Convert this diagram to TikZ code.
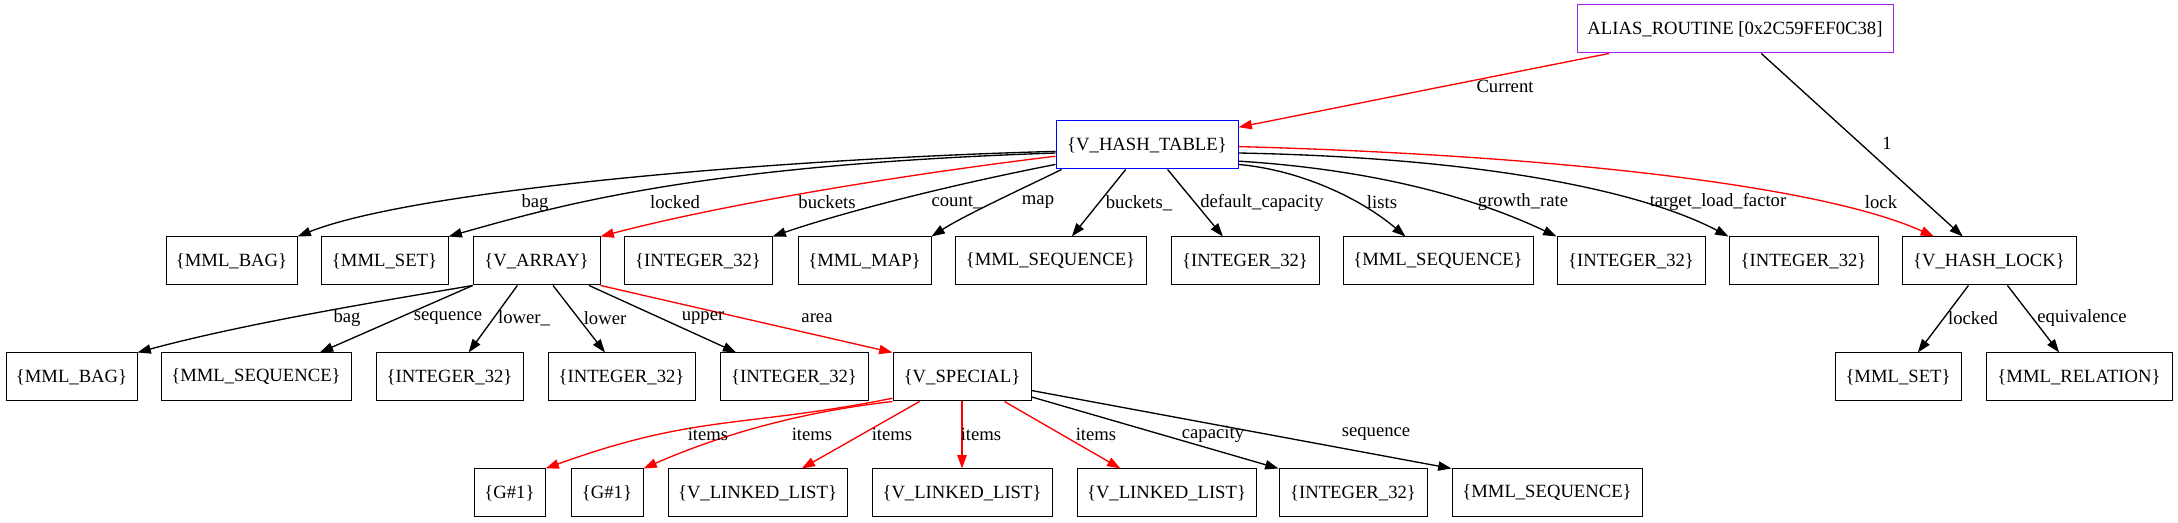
\documentclass[tikz,border=0pt]{standalone}
\usepackage{fontspec}
\setmainfont{Liberation Serif}
\usetikzlibrary{arrows.meta}
\definecolor{gvpurple}{HTML}{A020F0}
\definecolor{gvblue}{HTML}{0000FF}
\definecolor{gvred}{HTML}{FF0000}
\begin{document}
\begin{tikzpicture}[x=0.75pt,y=-0.75pt,
  every node/.style={font=\fontsize{14pt}{16pt}\selectfont},
  bx/.style={draw, line width=0.75pt, inner sep=0pt, minimum height=36pt, minimum width=#1*0.75pt},
  lab/.style={inner sep=0pt},
  ed/.style={line width=1pt, -{Triangle[length=10pt,width=7pt]}},
  reded/.style={ed, draw=gvred}]
\useasboundingbox (0,0) rectangle (2178,523);

% row 1
\node[bx=316, draw=gvpurple] (alias) at (1735,29) {ALIAS\_ROUTINE [0x2C59FEF0C38]};
\node[bx=182, draw=gvblue] (hash) at (1147,145) {\{V\_HASH\_TABLE\}};
% row 2
\node[bx=131] (bag1) at (231.5,261) {\{MML\_BAG\}};
\node[bx=127] (set1) at (384.5,261) {\{MML\_SET\}};
\node[bx=127] (array) at (536.5,261) {\{V\_ARRAY\}};
\node[bx=148] (intcount) at (698,261) {\{INTEGER\_32\}};
\node[bx=133] (map) at (864.5,261) {\{MML\_MAP\}};
\node[bx=191] (seqb) at (1050.5,261) {\{MML\_SEQUENCE\}};
\node[bx=148] (intdc) at (1245,261) {\{INTEGER\_32\}};
\node[bx=190] (seql) at (1438,261) {\{MML\_SEQUENCE\}};
\node[bx=148] (intgr) at (1631,261) {\{INTEGER\_32\}};
\node[bx=149] (inttlf) at (1803.5,261) {\{INTEGER\_32\}};
\node[bx=174] (lock) at (1989,261) {\{V\_HASH\_LOCK\}};
% row 3
\node[bx=131] (bag2) at (71.5,377) {\{MML\_BAG\}};
\node[bx=190] (seq2) at (256,377) {\{MML\_SEQUENCE\}};
\node[bx=147] (intlu) at (449.5,377) {\{INTEGER\_32\}};
\node[bx=147] (intl) at (621.5,377) {\{INTEGER\_32\}};
\node[bx=148] (intu) at (794,377) {\{INTEGER\_32\}};
\node[bx=138] (special) at (962,377) {\{V\_SPECIAL\}};
\node[bx=126] (set2) at (1898,377) {\{MML\_SET\}};
\node[bx=186] (rel) at (2079,377) {\{MML\_RELATION\}};
% row 4
\node[bx=71] (g1) at (509.5,493) {\{G\#1\}};
\node[bx=72] (g2) at (607,493) {\{G\#1\}};
\node[bx=179] (ll1) at (757.5,493) {\{V\_LINKED\_LIST\}};
\node[bx=180] (ll2) at (962,493) {\{V\_LINKED\_LIST\}};
\node[bx=179] (ll3) at (1166.5,493) {\{V\_LINKED\_LIST\}};
\node[bx=148] (intc) at (1353,493) {\{INTEGER\_32\}};
\node[bx=190] (seq3) at (1547,493) {\{MML\_SEQUENCE\}};

% edges from alias
\draw[reded] (alias.191.4) -- (hash.11.8);
\draw[ed] (alias.317.3) -- (lock.137.3);
% edges from hash
\draw[ed] (hash.184) .. controls (800,158) and (420,188) .. (bag1.north east);
\draw[ed] (hash.185) .. controls (700,165) and (560,205) .. (set1.north east);
\draw[reded] (hash.187.5) .. controls (900,175) and (720,205) .. (array.north east);
\draw[ed] (hash.192) .. controls (960,183) and (850,210) .. (intcount.north east);
\draw[ed] (hash.196) .. controls (1030,185) and (965,215) .. (map.north east);
\draw[ed] (hash.229) -- (seqb.49.5);
\draw[ed] (hash.310) -- (intdc.132.5);
\draw[ed] (hash.348.6) .. controls (1300,170) and (1360,198) .. (seql.143);
\draw[ed] (hash.350.2) .. controls (1380,170) and (1480,200) .. (intgr.north west);
\draw[ed] (hash.355.8) .. controls (1500,158) and (1650,195) .. (inttlf.north west);
\draw[reded] (hash.359.4) .. controls (1550,155) and (1820,185) .. (lock.156.8);
% edges from lock
\draw[ed] (lock.230) -- (set2.51.6);
\draw[ed] (lock.307) -- (rel.129.8);
% edges from array
\draw[ed] (array.south west) .. controls (400,298) and (250,322) .. (bag2.north east);
\draw[ed] (array.201.3) -- (seq2.21.5);
\draw[ed] (array.232.4) -- (intlu.52.4);
\draw[ed] (array.304.5) -- (intl.124.5);
\draw[ed] (array.335.4) -- (intu.157.2);
\draw[reded] (array.south east) -- (special.north west);
% edges from special
\draw[reded] (special.197) .. controls (743,428) and (696,414) .. (g1.north east);
\draw[reded] (special.south west) .. controls (800,412) and (720,435) .. (g2.north east);
\draw[reded] (special.210.2) -- (ll1.29.5);
\draw[reded] (special.south) -- (ll2.north);
\draw[reded] (special.330.8) -- (ll3.152.7);
\draw[ed] (special.344.6) -- (intc.north west);
\draw[ed] (special.349.3) -- (seq3.north west);

% labels
\node[lab] (lcur) at (1505,86) {Current};
\node[lab] (lone) at (1887,143) {1};
\node[lab] (lbag1) at (535,203) {bag};
\node[lab] (llocked1) at (675,202) {locked};
\node[lab] (lbuckets) at (827,202) {buckets};
\node[lab] (lcount) at (957,202) {count\_};
\node[lab] (lmap) at (1038,202) {map};
\node[lab] (lbucketsu) at (1139,203) {buckets\_};
\node[lab] (ldc) at (1262,203) {default\_capacity};
\node[lab] (llists) at (1382,202) {lists};
\node[lab] (lgr) at (1523,202) {growth\_rate};
\node[lab] (ltlf) at (1718,202) {target\_load\_factor};
\node[lab] (llock) at (1881,202) {lock};
\node[lab] (llocked2) at (1973,318) {locked};
\node[lab] (lequiv) at (2082,318) {equivalence};
\node[lab] (lbag2) at (347,318) {bag};
\node[lab] (lseq2) at (448,318) {sequence};
\node[lab] (llowu) at (524,318) {lower\_};
\node[lab] (llow) at (605,318) {lower};
\node[lab] (lup) at (703,318) {upper};
\node[lab] (larea) at (817,318) {area};
\node[lab] (li1) at (708,434) {items};
\node[lab] (li2) at (812,434) {items};
\node[lab] (li3) at (892,434) {items};
\node[lab] (li4) at (981,434) {items};
\node[lab] (li5) at (1096,434) {items};
\node[lab] (lcap) at (1213,434) {capacity};
\node[lab] (lseq3) at (1376,434) {sequence};
\end{tikzpicture}
\end{document}
